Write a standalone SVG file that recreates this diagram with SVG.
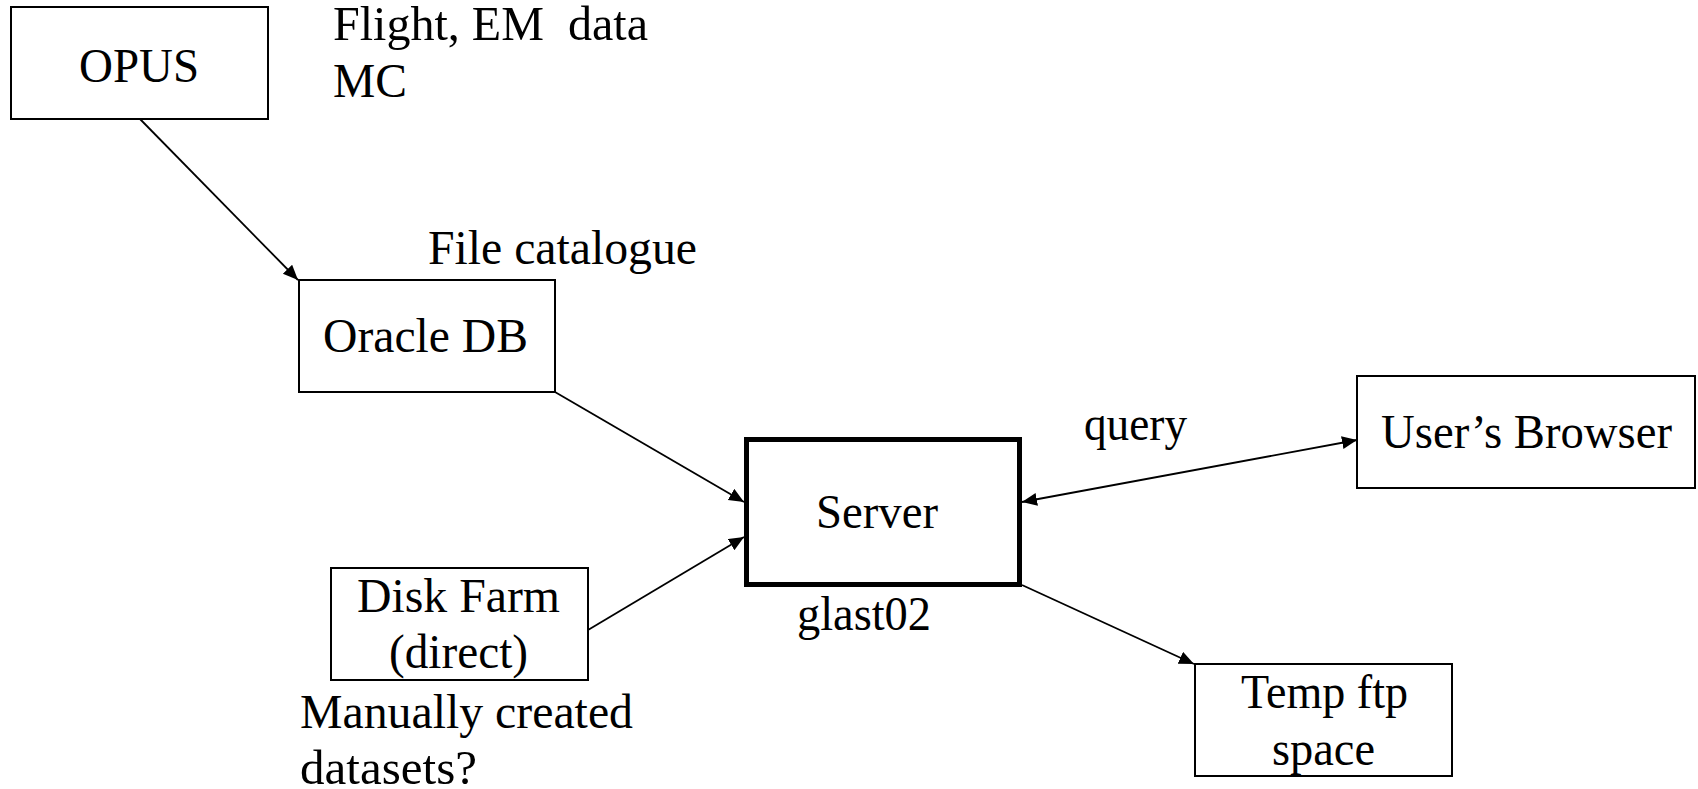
<svg xmlns="http://www.w3.org/2000/svg" width="1698" height="789" viewBox="0 0 1698 789">
  <style>
    .box { fill: #ffffff; stroke: #000000; stroke-width: 2; }
    .bold { fill: #ffffff; stroke: #000000; stroke-width: 5; }
    .t { font-family: "Liberation Serif", "Times New Roman", Tinos, "Noto Serif", "DejaVu Serif", FreeSerif, "Nimbus Roman", Times, serif; font-size: 48px; fill: #000000; }
    .c { text-anchor: middle; }
    .edge { stroke: #000000; stroke-width: 1.8; fill: none; }
  </style>
  <defs>
    <marker id="ah" markerUnits="userSpaceOnUse" markerWidth="16" markerHeight="14" refX="15" refY="6.5" orient="auto-start-reverse">
      <path d="M0,0 L15,6.5 L0,13 z" fill="#000000"/>
    </marker>
  </defs>
  <rect width="1698" height="789" fill="#ffffff"/>

  <g id="connectors">
    <line class="edge" x1="140" y1="119" x2="298" y2="280" marker-end="url(#ah)"/>
    <line class="edge" x1="555" y1="392" x2="744" y2="502" marker-end="url(#ah)"/>
    <line class="edge" x1="588" y1="630" x2="744" y2="537" marker-end="url(#ah)"/>
    <line class="edge" x1="1022" y1="502" x2="1357" y2="440" marker-start="url(#ah)" marker-end="url(#ah)"/>
    <line class="edge" x1="1022" y1="585" x2="1194" y2="664" marker-end="url(#ah)"/>
  </g>

  <g id="opus">
    <rect class="box" x="11" y="7" width="257" height="112"/>
    <text class="t" x="79" y="82" textLength="120" lengthAdjust="spacingAndGlyphs">OPUS</text>
  </g>
  <g id="opus-label">
    <text class="t" x="333" y="40" xml:space="preserve" textLength="315" lengthAdjust="spacingAndGlyphs">Flight, EM  data</text>
    <text class="t" x="333" y="97" textLength="74" lengthAdjust="spacingAndGlyphs">MC</text>
  </g>

  <g id="oracle">
    <rect class="box" x="299" y="280" width="256" height="112"/>
    <text class="t" x="323" y="352" textLength="205" lengthAdjust="spacingAndGlyphs">Oracle DB</text>
  </g>
  <g id="oracle-label">
    <text class="t" x="428" y="264" textLength="269" lengthAdjust="spacingAndGlyphs">File catalogue</text>
  </g>

  <g id="server">
    <rect class="bold" x="746.5" y="439.5" width="273" height="145"/>
    <text class="t" x="816" y="528" textLength="122" lengthAdjust="spacingAndGlyphs">Server</text>
  </g>
  <g id="server-label">
    <text class="t" x="797" y="630" textLength="134" lengthAdjust="spacingAndGlyphs">glast02</text>
  </g>

  <g id="browser">
    <rect class="box" x="1357" y="376" width="338" height="112"/>
    <text class="t" x="1381" y="448" textLength="291" lengthAdjust="spacingAndGlyphs">User’s Browser</text>
  </g>
  <g id="query-label">
    <text class="t" x="1084" y="440" textLength="103" lengthAdjust="spacingAndGlyphs">query</text>
  </g>

  <g id="diskfarm">
    <rect class="box" x="331" y="568" width="257" height="112"/>
    <text class="t" x="357" y="612" textLength="203" lengthAdjust="spacingAndGlyphs">Disk Farm</text>
    <text class="t" x="389" y="668" textLength="139" lengthAdjust="spacingAndGlyphs">(direct)</text>
  </g>
  <g id="diskfarm-label">
    <text class="t" x="300" y="728" textLength="333" lengthAdjust="spacingAndGlyphs">Manually created</text>
    <text class="t" x="300" y="784" textLength="177" lengthAdjust="spacingAndGlyphs">datasets?</text>
  </g>

  <g id="tempftp">
    <rect class="box" x="1195" y="664" width="257" height="112"/>
    <text class="t" x="1241" y="708" textLength="167" lengthAdjust="spacingAndGlyphs">Temp ftp</text>
    <text class="t" x="1272" y="765" textLength="103" lengthAdjust="spacingAndGlyphs">space</text>
  </g>
</svg>
